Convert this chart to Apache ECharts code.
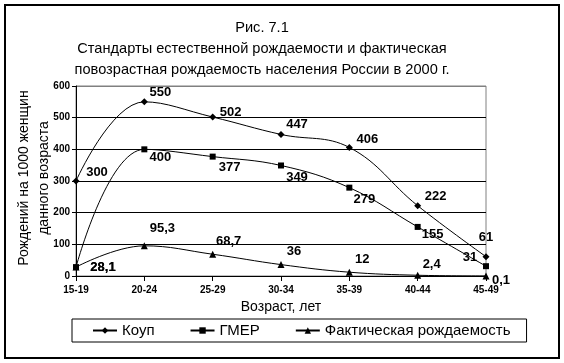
<!DOCTYPE html>
<html><head><meta charset="utf-8">
<script src="https://cdn.jsdelivr.net/npm/echarts@6/dist/echarts.min.js"></script>
<style>html,body{margin:0;padding:0;background:#fff}#c{width:564px;height:363px}</style>
</head><body><div id="c"></div>
<script>
const categories = ['15-19','20-24','25-29','30-34','35-39','40-44','45-49'];
const seriesNames = ['Коуп','ГМЕР','Фактическая рождаемость'];
const coaleValues = [300, 550, 502, 447, 406, 222, 61];
const gmerValues = [28.1, 400, 377, 349, 279, 155, 31];
const actualValues = [28.1, 95.3, 68.7, 36, 12, 2.4, 0.1];
const yMin = 0, yMax = 600, yStep = 100;
const titleLines = ['Рис. 7.1', 'Стандарты естественной рождаемости и фактическая', 'повозрастная рождаемость населения России в 2000 г.'];
const yAxisTitleLines = ['Рождений на 1000 женщин', 'данного возраста'];
const xAxisTitle = 'Возраст, лет';

// label placement (styling only)
const coaleLabelOffsets = [[21,-9],[16,-9],[18,-5],[16,-10],[18,-8],[18,-9],[0,-19]];
const gmerLabelOffsets  = [[27,0],[16,8],[17,11],[16,12],[15,12],[15,8],[-16,-9]];
const actualLabelOffsets = [[27,0],[18,-17],[16,-13],[13,-13],[13,-13],[14,-11],[15,4]];

const FONT = "'Liberation Sans', Arial, sans-serif";
const fmt = v => String(v).replace('.', ',');

function buildData(values, offsets) {
  return values.map((v, i) => ({ value: v, label: { offset: offsets[i] } }));
}
function makeSeries(name, values, offsets, symbol, size) {
  return {
    name, type: 'line', smooth: 0.4, symbol, symbolSize: size,
    data: buildData(values, offsets),
    lineStyle: { color: '#000', width: 1 },
    itemStyle: { color: '#000' },
    label: {
      show: true, position: 'inside', align: 'center', verticalAlign: 'middle',
      formatter: p => fmt(p.value), color: '#000',
      fontFamily: FONT, fontWeight: 'bold', fontSize: 13
    },
    emphasis: { disabled: true }, animation: false
  };
}

const chart = echarts.init(document.getElementById('c'), null, { renderer: 'canvas' });
chart.setOption({
  backgroundColor: '#fff',
  animation: false,
  grid: { left: 76, right: 78, top: 86, bottom: 87, show: true, borderColor: '#808080', borderWidth: 1, backgroundColor: 'transparent' },
  xAxis: {
    type: 'category', data: categories, boundaryGap: false,
    axisLine: { lineStyle: { color: '#000', width: 1 } },
    axisTick: { show: true, length: 5, lineStyle: { color: '#000' } },
    axisLabel: { color: '#000', fontFamily: FONT, fontWeight: 'bold', fontSize: 10, margin: 9 },
    splitLine: { show: false },
    name: xAxisTitle, nameLocation: 'middle', nameGap: 21,
    nameTextStyle: { color: '#000', fontFamily: FONT, fontSize: 14 }
  },
  yAxis: {
    type: 'value', min: yMin, max: yMax, interval: yStep,
    axisLine: { show: true, lineStyle: { color: '#000', width: 1 } },
    axisTick: { show: true, length: 4, lineStyle: { color: '#000' } },
    axisLabel: { color: '#000', fontFamily: FONT, fontWeight: 'bold', fontSize: 10, margin: 6 },
    splitLine: { show: true, lineStyle: { color: ['#000','#000','#000','#000','#000','#000','#808080'], width: 1 } }
  },
  legend: {
    data: seriesNames, left: 72, top: 319, orient: 'horizontal',
    padding: [4, 16, 4, 20], borderColor: '#000', borderWidth: 1,
    itemWidth: 24, itemHeight: 8, itemGap: 35,
    textStyle: { color: '#000', fontFamily: FONT, fontSize: 15 }
  },
  series: [
    makeSeries(seriesNames[0], coaleValues, coaleLabelOffsets, 'diamond', 7),
    makeSeries(seriesNames[1], gmerValues, gmerLabelOffsets, 'rect', 6),
    makeSeries(seriesNames[2], actualValues, actualLabelOffsets, 'triangle', 7)
  ],
  graphic: [
    { type: 'rect', shape: { x: 5, y: 5, width: 554, height: 353 }, style: { fill: null, stroke: '#000', lineWidth: 2 }, silent: true },
    { type: 'text', x: 262, y: 17, silent: true,
      style: { text: titleLines.join('\n'), font: '14.6px ' + FONT, fill: '#000', align: 'center', verticalAlign: 'top', textAlign: 'center', textVerticalAlign: 'top', lineHeight: 21 } },
    { type: 'text', x: 34, y: 178, rotation: Math.PI / 2, silent: true,
      style: { text: yAxisTitleLines.join('\n'), font: '14px ' + FONT, fill: '#000', align: 'center', verticalAlign: 'middle', textAlign: 'center', textVerticalAlign: 'middle', lineHeight: 20 } }
  ]
});
</script></body></html>
